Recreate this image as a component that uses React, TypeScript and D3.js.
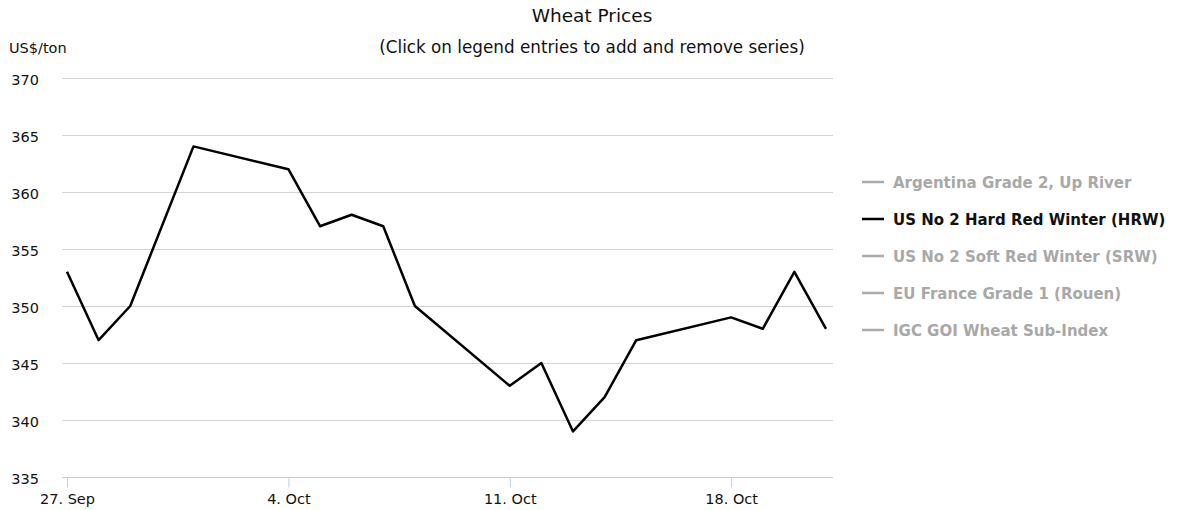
import { useEffect, useRef } from "react";
import * as d3 from "d3";

// HRW series (US$/ton), trading days only
const dates = [
  "2010-09-27", "2010-09-28", "2010-09-29", "2010-10-01",
  "2010-10-04", "2010-10-05", "2010-10-06", "2010-10-07", "2010-10-08",
  "2010-10-11", "2010-10-12", "2010-10-13", "2010-10-14", "2010-10-15",
  "2010-10-18", "2010-10-19", "2010-10-20", "2010-10-21",
];
const hrwValues = [353, 347, 350, 364, 362, 357, 358, 357, 350, 343, 345, 339, 342, 347, 349, 348, 353, 348];

const xTickDates = ["2010-09-27", "2010-10-04", "2010-10-11", "2010-10-18"];
const yTicks = [335, 340, 345, 350, 355, 360, 365, 370];

const legendNames = [
  "Argentina Grade 2, Up River",
  "US No 2 Hard Red Winter (HRW)",
  "US No 2 Soft Red Winter (SRW)",
  "EU France Grade 1 (Rouen)",
  "IGC GOI Wheat Sub-Index",
];
const legendVisible = [false, true, false, false, false];

const FONT = "'DejaVu Sans', Verdana, sans-serif";
const TEXT = "#111";

const App = () => {
  const svgRef = useRef<SVGSVGElement | null>(null);

  useEffect(() => {
    const width = 1178;
    const height = 510;
    const plot = { left: 62, right: 833, top: 78, bottom: 477 };

    const svg = d3.select(svgRef.current).attr("width", width).attr("height", height);
    svg.selectAll("*").remove();

    const parse = d3.timeParse("%Y-%m-%d");
    const data = dates.map((d, i) => ({ date: parse(d) as Date, value: hrwValues[i] }));

    // x: one day ~31.6px, first point sits a bit inside the plot
    const x = d3
      .scaleTime()
      .domain([data[0].date, data[data.length - 1].date])
      .range([67, 826]);

    const y = d3.scaleLinear().domain([335, 370]).range([plot.bottom, plot.top]);

    // Title + subtitle
    svg
      .append("text")
      .attr("x", 592)
      .attr("y", 22)
      .attr("text-anchor", "middle")
      .attr("font-family", FONT)
      .attr("font-size", 18.5)
      .attr("fill", TEXT)
      .text("Wheat Prices");

    svg
      .append("text")
      .attr("x", 592)
      .attr("y", 53)
      .attr("text-anchor", "middle")
      .attr("font-family", FONT)
      .attr("font-size", 16.8)
      .attr("fill", TEXT)
      .text("(Click on legend entries to add and remove series)");

    // Y axis title
    svg
      .append("text")
      .attr("x", 9)
      .attr("y", 53)
      .attr("font-family", FONT)
      .attr("font-size", 14.5)
      .attr("fill", TEXT)
      .text("US$/ton");

    // Grid
    svg
      .append("g")
      .selectAll("line")
      .data(yTicks.filter((t) => t !== 335))
      .join("line")
      .attr("x1", plot.left)
      .attr("x2", plot.right)
      .attr("y1", (d) => Math.round(y(d)) + 0.5)
      .attr("y2", (d) => Math.round(y(d)) + 0.5)
      .attr("stroke", "#d4d4d4")
      .attr("stroke-width", 1);

    // Y labels
    svg
      .append("g")
      .selectAll("text")
      .data(yTicks)
      .join("text")
      .attr("x", 39)
      .attr("y", (d) => y(d) + 6.5)
      .attr("text-anchor", "end")
      .attr("font-family", FONT)
      .attr("font-size", 14.5)
      .attr("fill", TEXT)
      .text((d) => d);

    // X axis
    const xAxis = d3
      .axisBottom(x)
      .tickValues(xTickDates.map((d) => parse(d) as Date))
      .tickFormat((d: any) => d3.timeFormat("%-d. %b")(d))
      .tickSize(10)
      .tickSizeOuter(0);

    const gx = svg
      .append("g")
      .attr("transform", `translate(0,${Math.round(plot.bottom) + 0.5})`)
      .call(xAxis);
    gx.select(".domain").remove();
    gx.append("line")
      .attr("x1", plot.left)
      .attr("x2", plot.right)
      .attr("stroke", "#c0d0e0")
      .attr("stroke-width", 1);
    gx.selectAll(".tick line").attr("stroke", "#c0d0e0");
    gx.selectAll(".tick text")
      .attr("y", 16)
      .attr("dy", "0.71em")
      .attr("font-family", FONT)
      .attr("font-size", 14.5)
      .attr("fill", TEXT);

    // Series line
    const line = d3
      .line<{ date: Date; value: number }>()
      .x((d) => x(d.date))
      .y((d) => y(d.value));

    svg
      .append("path")
      .datum(data)
      .attr("d", line)
      .attr("fill", "none")
      .attr("stroke", "#000")
      .attr("stroke-width", 2.5)
      .attr("stroke-linejoin", "round");

    // Legend
    const legend = svg.append("g").attr("transform", "translate(862,182)");
    const item = legend
      .selectAll("g")
      .data(legendNames)
      .join("g")
      .attr("transform", (_: any, i: number) => `translate(0,${i * 37})`);

    item
      .append("line")
      .attr("x1", 0)
      .attr("x2", 22)
      .attr("stroke", (_: any, i: number) => (legendVisible[i] ? "#000" : "#aaa"))
      .attr("stroke-width", 2.5);

    item
      .append("text")
      .attr("x", 31)
      .attr("y", 5.5)
      .attr("font-family", FONT)
      .attr("font-weight", "bold")
      .attr("font-size", 15)
      .attr("fill", (_: any, i: number) => (legendVisible[i] ? "#111" : "#a8a8a8"))
      .text((d) => d);
  }, []);

  return (
    <div style={{ position: "absolute", left: 0, top: 0, background: "#fff" }}>
      <svg ref={svgRef} />
    </div>
  );
};

export default App;
